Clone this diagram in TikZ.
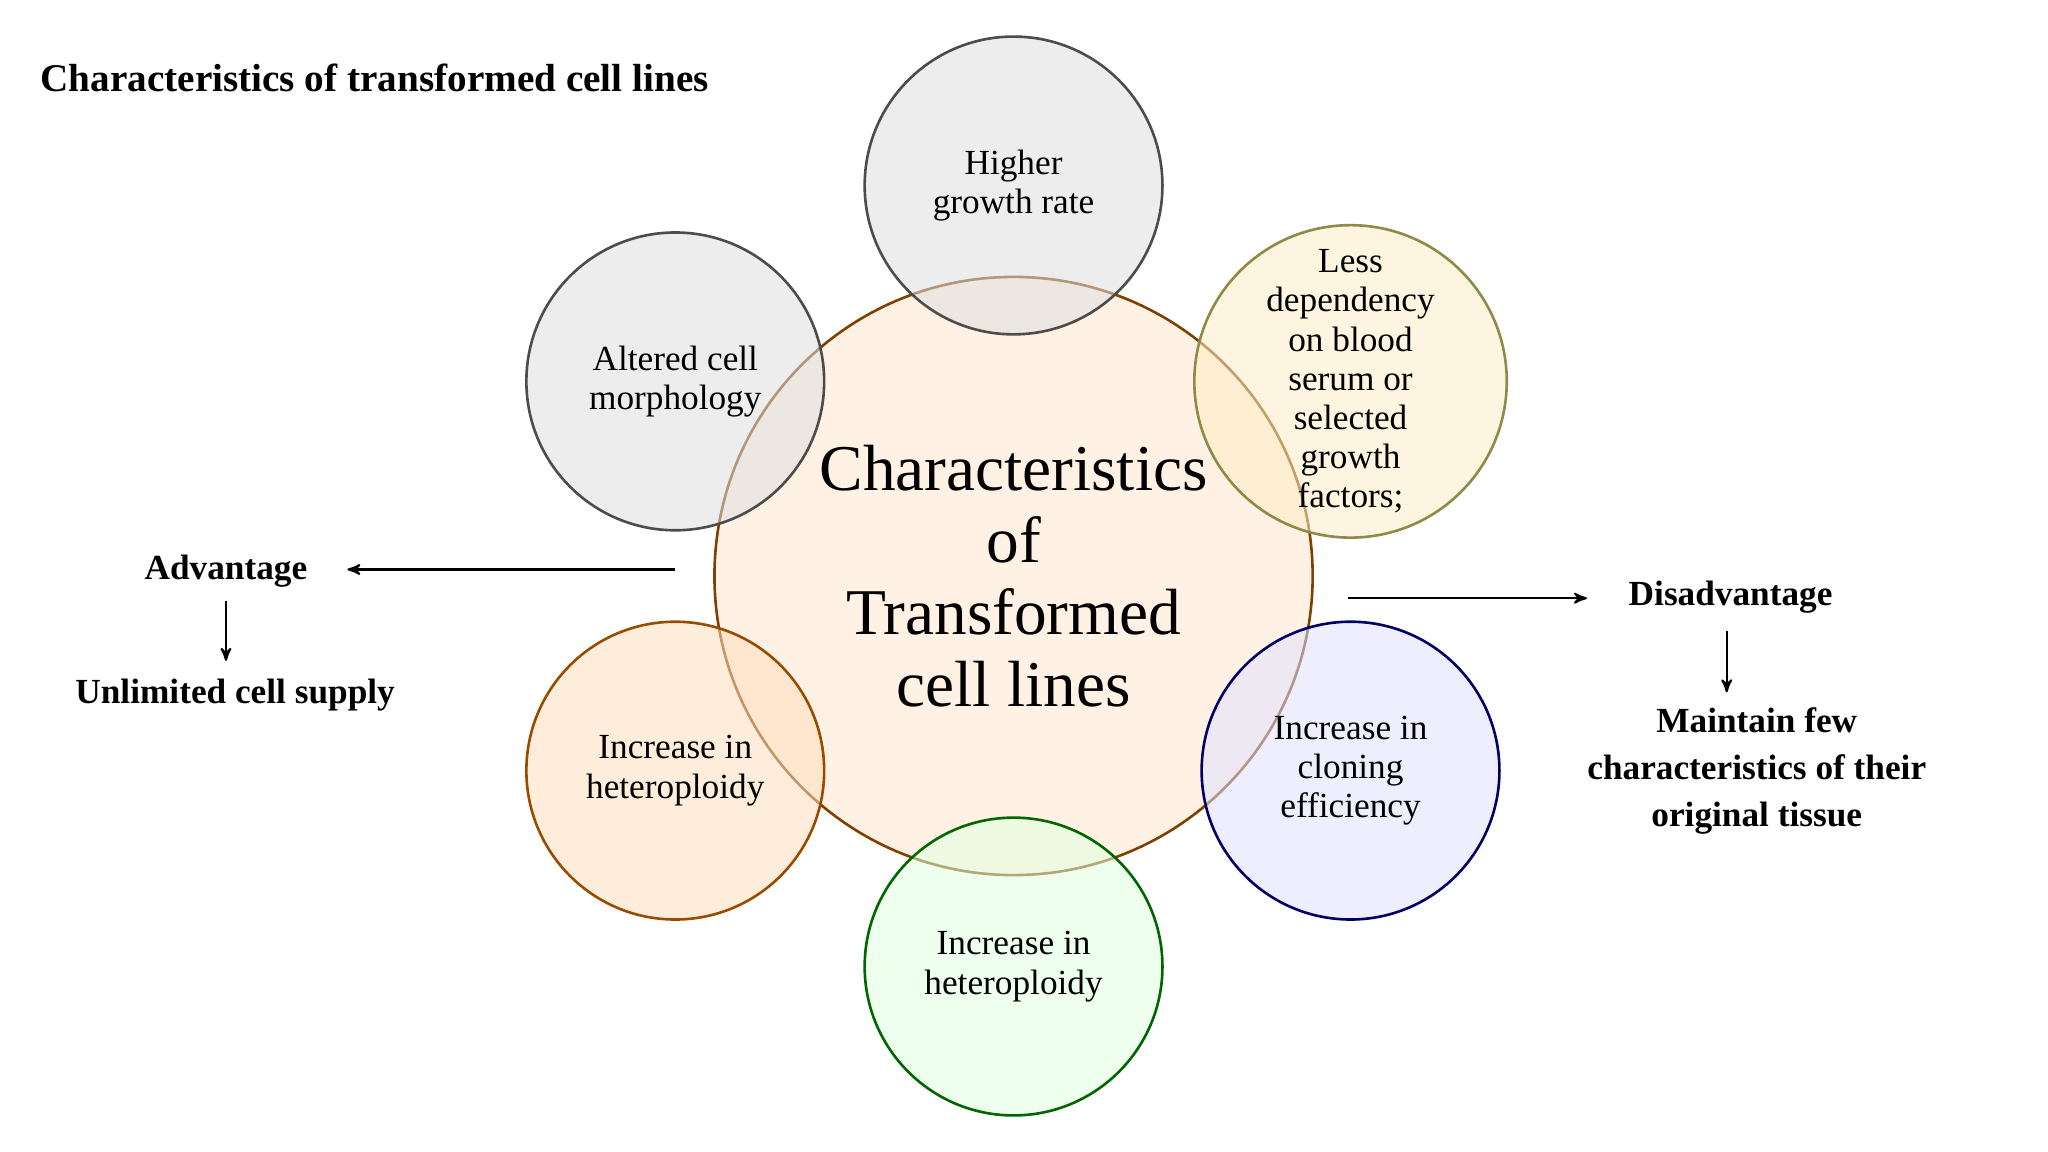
\documentclass[tikz,border=0pt]{standalone}
\usepackage{fontspec}
\setmainfont{Liberation Serif}
\usetikzlibrary{positioning, arrows}
\tikzset{
>=stealth', % arrow heads
bubble/.style={circle, minimum size=114pt, inner sep=0pt, align=center, line width=1pt, fill opacity=0.55, text opacity=1, font=\fontsize{13.5}{15}\selectfont},
big/.style={circle, minimum size=229pt, inner sep=0pt, align=center, line width=1pt, draw=orange!50!black, fill=orange!15, fill opacity=0.7, text opacity=1},
label/.style={font=\bfseries\fontsize{13.5}{18}\selectfont, align=center},
link/.style={->, line width=0.8pt},
}
\begin{document}
\begin{tikzpicture}[x=0.5pt, y=-0.5pt]
\useasboundingbox (0,0) rectangle (1568,882);
\node[font=\bfseries\fontsize{15}{17}\selectfont, anchor=west] (title) at (24,60) {Characteristics of transformed cell lines};
% centre and bubbles
\node[big] (core) at (776,441) {};
\node[bubble, draw=gray!60!black, fill=gray!25] (growth) at (776,142) {Higher\\growth rate};
\node[bubble, draw=yellow!50!black, fill=yellow!35!orange!20] (serum) at (1034,292) {Less\\dependency\\on blood\\serum or\\selected\\growth\\factors;};
\node[bubble, draw=blue!40!black, fill=blue!12] (cloning) at (1034,590) {Increase in\\cloning\\efficiency};
\node[bubble, draw=green!40!black, fill=green!12] (ploidyB) at (776,740) {Increase in\\heteroploidy};
\node[bubble, draw=orange!60!black, fill=orange!25] (ploidyL) at (517,590) {Increase in\\heteroploidy};
\node[bubble, draw=gray!60!black, fill=gray!25] (morph) at (517,292) {Altered cell\\morphology};
\node[font=\fontsize{25}{27.5}\selectfont, align=center] (coretext) at (776,441) {Characteristics\\of\\Transformed\\cell lines};
% advantage side
\node[label] (adv) at (173,437) {Advantage};
\node[label] (supply) at (180,532) {Unlimited cell supply};
\coordinate (advstart) at (517,436);
\coordinate (advend) at (266,436);
\coordinate (advdown) at (173,460);
\coordinate (advbot) at (173,506);
\draw[link] (advstart) -- (advend);
\draw[link] (advdown) -- (advbot);
% disadvantage side
\node[label] (dis) at (1325,457) {Disadvantage};
\node[label] (keep) at (1345,590) {Maintain few\\characteristics of their\\original tissue};
\coordinate (disstart) at (1032,458);
\coordinate (disend) at (1215,458);
\coordinate (disdown) at (1322,483);
\coordinate (disbot) at (1322,530);
\draw[link] (disstart) -- (disend);
\draw[link] (disdown) -- (disbot);
\end{tikzpicture}
\end{document}
